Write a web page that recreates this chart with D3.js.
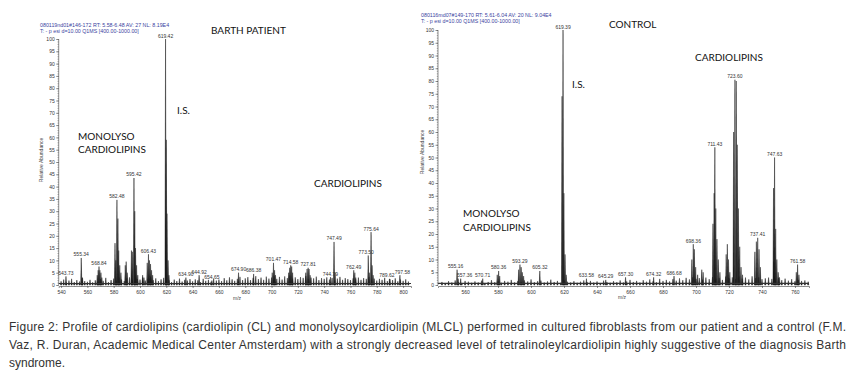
<!DOCTYPE html>
<html>
<head>
<meta charset="utf-8">
<script src="https://cdn.jsdelivr.net/npm/d3@7"></script>
<style>
  body { margin: 0; background: #fff; }
  svg { display: block; }
  .tick text { font-family: Arial, "Liberation Sans", sans-serif; }
</style>
</head>
<body>
<svg id="canvas" width="856" height="373"></svg>
<script>
'use strict';

// noise sticks, one every 2 m/z from the start value
const patientNoiseStart = 540;
const patientNoise = [
  1.5, 2.2, 1.0, 1.8, 2.5, 1.2, 2.0, 1.4, 2.8, 1.6,
  1.3, 2.1, 1.1, 1.9, 1.5, 2.4, 1.7, 2.9, 1.2, 2.0,
  2.6, 1.8, 3.0, 2.2, 1.6, 2.7, 3.1, 2.0, 1.5, 2.4,
  2.2, 3.0, 1.8, 2.5, 3.4, 2.0, 2.7, 1.6, 2.3, 2.9,
  2.5, 1.9, 1.2, 2.2, 1.6, 2.6, 1.4, 2.1, 1.8, 2.4,
  1.5, 2.3, 1.9, 1.2, 2.5, 1.7, 2.1, 1.3, 2.6, 1.8,
  2.2, 1.6, 2.8, 1.9, 3.1, 2.3, 1.7, 2.5, 3.3, 2.0,
  2.7, 3.2, 2.0, 2.9, 3.6, 2.4, 3.0, 2.1, 3.4, 2.6,
  3.0, 3.8, 2.5, 3.3, 2.2, 3.5, 2.8, 3.9, 2.6, 3.1,
  2.4, 3.2, 2.9, 3.6, 2.3, 3.0, 2.7, 3.4, 2.0, 2.8,
  2.5, 3.1, 2.2, 2.9, 1.9, 2.6, 3.3, 2.1, 2.8, 2.4,
  2.0, 2.7, 2.3, 3.0, 2.1, 2.8, 2.5, 3.2, 2.2, 2.6,
  1.8, 2.5, 2.1, 2.9, 1.6, 2.4, 2.0, 2.7, 1.5, 2.2,
  1.7, 2.3, 1.4
];

// [m/z, relative abundance, labelled]
const patientPeaks = [
  [543.73, 3.5, 1], [555.34, 11, 1], [556.3, 3, 0],
  [567.5, 4, 0], [568.2, 6, 0], [568.84, 7.5, 1], [569.5, 6, 0], [570.3, 5, 0], [571.0, 3, 0],
  [581.0, 17, 0], [581.6, 10, 0], [582.48, 34.6, 1], [583.2, 27, 0], [583.8, 14, 0], [584.6, 8, 0], [585.5, 5, 0],
  [588.8, 8, 0], [589.5, 9.5, 0], [590.3, 5, 0],
  [593.5, 14, 0], [594.2, 13.5, 0], [595.42, 43.5, 1], [596.0, 30, 0], [596.6, 15, 0], [597.4, 8, 0], [598.3, 4, 0],
  [602.0, 4, 0], [603.0, 3, 0],
  [605.5, 9, 0], [606.43, 12.5, 1], [607.2, 10, 0], [608.0, 8.5, 0], [608.8, 6, 0], [609.6, 4, 0],
  [619.42, 100, 1], [620.0, 59, 0], [620.5, 29, 0], [621.3, 10, 0], [622.0, 4, 0],
  [634.90, 3, 1], [644.92, 4, 1], [654.65, 1.8, 1], [674.90, 5, 1], [686.38, 4.5, 1],
  [700.5, 5, 0], [701.47, 9, 1], [702.3, 6, 0], [703.0, 4, 0],
  [713.0, 5, 0], [713.8, 7, 0], [714.58, 8, 1], [715.3, 7.5, 0], [716.0, 5, 0],
  [726.0, 5, 0], [727.0, 6.5, 0], [727.81, 7, 1], [728.5, 6.5, 0], [729.3, 4, 0],
  [744.79, 3.2, 1], [747.49, 17.5, 1], [748.3, 5, 0],
  [762.49, 6, 1], [763.3, 5, 0], [764.0, 3, 0],
  [773.50, 12, 1], [774.3, 5, 0], [775.64, 21.5, 1], [776.4, 8, 0], [777.2, 4, 0],
  [789.62, 2.5, 1], [797.58, 4, 1]
];

const controlNoiseStart = 546;
const controlNoise = [
  1.2, 0.8, 1.5, 1.0, 1.8, 1.1, 0.7, 1.6, 1.3, 0.9,
  1.4, 1.0, 1.7, 0.8, 1.2, 1.9, 1.1, 1.5, 0.9, 1.6,
  1.3, 2.0, 1.0, 1.6, 1.2, 1.8, 1.4, 2.2, 1.1, 1.5,
  1.7, 1.0, 1.4, 2.1, 1.2, 1.6, 0.9, 1.8, 1.3, 1.0,
  1.5, 0.9, 1.3, 1.8, 1.1, 1.6, 1.0, 1.4, 0.8, 1.7,
  1.2, 0.9, 1.5, 1.1, 1.8, 1.0, 1.4, 2.0, 1.2, 1.6,
  1.0, 1.9, 1.3, 2.2, 1.5, 1.1, 2.4, 1.6, 2.0, 1.4,
  2.3, 1.7, 2.6, 1.9, 2.8, 2.2, 3.0, 2.4, 2.7, 2.1,
  2.9, 2.3, 3.1, 2.5, 2.8, 2.0, 3.3, 2.6, 3.0, 2.4,
  3.2, 2.5, 2.9, 2.2, 3.4, 2.7, 3.0, 2.3, 2.6, 2.9,
  2.4, 2.1, 2.8, 1.9, 2.5, 1.7, 2.3, 1.5, 2.0, 1.6,
  1.8, 1.3
];

const controlPeaks = [
  [555.16, 6, 1], [555.8, 2.5, 0], [557.36, 2.5, 1], [570.71, 2.5, 1],
  [579.5, 4, 0], [580.36, 5.5, 1], [581.0, 3.5, 0],
  [592.5, 6, 0], [593.29, 8, 1], [594.0, 7, 0], [594.7, 5, 0], [595.5, 3.5, 0],
  [605.32, 5.5, 1],
  [618.8, 74, 0], [619.39, 100, 1], [619.9, 36, 0], [620.6, 12, 0], [621.3, 4, 0],
  [633.58, 2.5, 1], [645.29, 2, 1], [657.30, 3, 1], [674.32, 3, 1], [686.68, 3.5, 1],
  [697.5, 10, 0], [698.36, 16, 1], [699.0, 14, 0], [699.8, 7, 0], [701.0, 4, 0],
  [703.5, 6, 0], [704.3, 5, 0],
  [710.3, 24, 0], [711.0, 36, 0], [711.43, 54, 1], [712.0, 30, 0], [712.7, 18, 0], [713.5, 10, 0], [714.5, 5, 0],
  [718.3, 12, 0], [719.0, 16, 0], [719.7, 10, 0], [720.5, 5, 0],
  [722.8, 60, 0], [723.60, 80.5, 1], [724.4, 80, 0], [725.0, 55, 0], [725.7, 30, 0], [726.5, 15, 0], [727.3, 7, 0], [728.2, 4, 0],
  [735.7, 13, 0], [736.6, 17, 0], [737.41, 18.5, 1], [738.2, 14, 0], [739.0, 7, 0],
  [747.0, 38, 0], [747.63, 50, 1], [748.3, 22, 0], [749.0, 10, 0], [749.8, 5, 0], [750.6, 3, 0],
  [760.8, 5, 0], [761.58, 8, 1], [762.4, 4, 0]
];

const patientXTicks = [540, 560, 580, 600, 620, 640, 660, 680, 700, 720, 740, 760, 780, 800];
const controlXTicks = [560, 580, 600, 620, 640, 660, 680, 700, 720, 740, 760];
const yTicks = [0, 5, 10, 15, 20, 25, 30, 35, 40, 45, 50, 55, 60, 65, 70, 75, 80, 85, 90, 95, 100];

const patientHeader = ['080119nd01#146-172  RT: 5.58-6.48  AV: 27  NL: 8.19E4',
                       'T: - p esi d=10.00  Q1MS [400.00-1000.00]'];
const controlHeader = ['080116md07#149-170  RT: 5.61-6.04  AV: 20  NL: 9.04E4',
                       'T: - p esi d=10.00  Q1MS [400.00-1000.00]'];

const captionLines = [
  'Figure 2: Profile of cardiolipins (cardiolipin (CL) and monolysoylcardiolipin (MLCL) performed in cultured fibroblasts from our patient and a control (F.M.',
  'Vaz, R. Duran, Academic Medical Center Amsterdam) with a strongly decreased level of tetralinoleylcardiolipin highly suggestive of the diagnosis Barth',
  'syndrome.'
];

(function() {

const kSmallFont = 'Arial, "Liberation Sans", sans-serif';
const kLabelFont = 'Lato, "Open Sans", sans-serif';

// sideways nudges (px) for crowded peak labels
const kLabelNudge = { '789.62': -2.5, '797.58': 2.5, '555.16': -1.5, '557.36': 4, '773.50': -2 };

function BuildSticks(noiseStart, noise, peaks) {
  var sticks = noise.map(function(v, i) { return [noiseStart + 2 * i, v]; });
  peaks.forEach(function(p) { sticks.push([p[0], p[1]]); });
  sticks.sort(function(a, b) { return a[0] - b[0]; });
  return sticks;
}

function DrawSpectrum(svg, cfg) {
  const x = d3.scaleLinear().domain(cfg.xDomain).range(cfg.xRange);
  const y = d3.scaleLinear().domain([0, 100]).range(cfg.yRange);
  const g = svg.append('g');
  const halfWidth = cfg.halfWidth;

  // spectrum as narrow peak shapes
  const sticks = BuildSticks(cfg.noiseStart, cfg.noise, cfg.peaks);
  g.append('g').selectAll('path')
      .data(sticks)
    .enter().append('path')
      .attr('d', function(d) {
        return 'M' + x(d[0] - halfWidth) + ',' + y(0) +
               'L' + x(d[0]) + ',' + y(d[1]) +
               'L' + x(d[0] + halfWidth) + ',' + y(0) + 'Z';
      })
      .attr('fill', '#111')
      .attr('stroke', '#222')
      .attr('stroke-width', 0.5);

  // baseline fuzz
  g.append('line')
      .attr('x1', cfg.xRange[0]).attr('x2', cfg.xRange[1])
      .attr('y1', y(0.6)).attr('y2', y(0.6))
      .attr('stroke', '#333').attr('stroke-width', 1.2);

  // peak labels
  g.append('g').selectAll('text')
      .data(cfg.peaks.filter(function(p) { return p[2]; }))
    .enter().append('text')
      .attr('x', function(d) { return x(d[0]) + (kLabelNudge[d[0].toFixed(2)] || 0); })
      .attr('y', function(d) { return y(d[1]) - 1.5; })
      .attr('text-anchor', 'middle')
      .attr('font-family', kSmallFont)
      .attr('font-size', 5)
      .attr('fill', '#333')
      .text(function(d) { return d[0].toFixed(2); });

  // y axis, major and minor ticks
  const yAxis = g.append('g')
      .attr('transform', 'translate(' + cfg.xRange[0] + ',0)')
      .call(d3.axisLeft(y).tickValues(yTicks).tickSize(2.5).tickPadding(1.5));
  yAxis.selectAll('text').attr('font-size', 5).attr('fill', '#333');
  yAxis.selectAll('line, path').attr('stroke', '#444').attr('stroke-width', 0.6);
  yAxis.select('.domain').attr('d', 'M0,' + y(0) + 'V' + y(100));
  const yMinor = g.append('g')
      .attr('transform', 'translate(' + cfg.xRange[0] + ',0)')
      .call(d3.axisLeft(y).ticks(100).tickSize(1.2).tickFormat(''));
  yMinor.select('.domain').remove();
  yMinor.selectAll('line').attr('stroke', '#555').attr('stroke-width', 0.5);

  // x axis
  const xAxis = g.append('g')
      .attr('transform', 'translate(0,' + (y(0) + 1) + ')')
      .call(d3.axisBottom(x).tickValues(cfg.xTicks).tickSize(2).tickPadding(2));
  xAxis.selectAll('text').attr('font-size', 5).attr('fill', '#333');
  xAxis.selectAll('line, path').attr('stroke', '#444').attr('stroke-width', 0.6);
  const xMinor = g.append('g')
      .attr('transform', 'translate(0,' + (y(0) + 1) + ')')
      .call(d3.axisBottom(x).ticks(60).tickSize(1).tickFormat(''));
  xMinor.select('.domain').remove();
  xMinor.selectAll('line').attr('stroke', '#666').attr('stroke-width', 0.4);

  // axis titles
  g.append('text')
      .attr('transform', 'translate(' + cfg.yTitle[0] + ',' + cfg.yTitle[1] + ') rotate(-90)')
      .attr('text-anchor', 'middle')
      .attr('font-family', kSmallFont)
      .attr('font-size', 5)
      .attr('fill', '#444')
      .text('Relative Abundance');
  g.append('text')
      .attr('x', cfg.mzTitle[0]).attr('y', cfg.mzTitle[1])
      .attr('text-anchor', 'middle')
      .attr('font-family', kSmallFont)
      .attr('font-size', 5)
      .attr('fill', '#444')
      .text('m/z');

  // instrument header
  g.append('g').selectAll('text')
      .data(cfg.header)
    .enter().append('text')
      .attr('x', cfg.headerPos[0])
      .attr('y', function(d, i) { return cfg.headerPos[1] + i * 6.5; })
      .attr('font-family', kSmallFont)
      .attr('font-size', 5.3)
      .attr('fill', '#3a3fa0')
      .text(function(d) { return d; });

  // annotations
  g.append('g').selectAll('text')
      .data(cfg.notes)
    .enter().append('text')
      .attr('x', function(d) { return d[1]; })
      .attr('y', function(d) { return d[2]; })
      .attr('font-family', kLabelFont)
      .attr('font-size', 10)
      .attr('fill', '#111')
      .text(function(d) { return d[0]; });
}

function Main() {
  const svg = d3.select('#canvas');
  svg.append('rect').attr('width', 856).attr('height', 373).attr('fill', '#fff');

  DrawSpectrum(svg, {
    xDomain: [538.2, 806], xRange: [58.7, 411],
    yRange: [285, 39],
    halfWidth: 0.45,
    noiseStart: patientNoiseStart, noise: patientNoise, peaks: patientPeaks,
    xTicks: patientXTicks,
    yTitle: [43, 160], mzTitle: [237, 300],
    header: patientHeader, headerPos: [40, 26.5],
    notes: [['BARTH PATIENT', 211, 34], ['I.S.', 177, 114],
            ['MONOLYSO', 78, 140], ['CARDIOLIPINS', 78, 153],
            ['CARDIOLIPINS', 314, 187]]
  });

  DrawSpectrum(svg, {
    xDomain: [543.6, 768.5], xRange: [438, 809],
    yRange: [285, 30],
    halfWidth: 0.35,
    noiseStart: controlNoiseStart, noise: controlNoise, peaks: controlPeaks,
    xTicks: controlXTicks,
    yTitle: [424, 152], mzTitle: [622, 299],
    header: controlHeader, headerPos: [421, 16.5],
    notes: [['CONTROL', 609, 28], ['I.S.', 572, 88],
            ['CARDIOLIPINS', 695, 61],
            ['MONOLYSO', 463, 217], ['CARDIOLIPINS', 463, 231]]
  });

  // caption, first two lines justified
  svg.append('g').selectAll('text')
      .data(captionLines)
    .enter().append('text')
      .attr('x', 9)
      .attr('y', function(d, i) { return 331 + i * 18; })
      .attr('font-family', 'Arial, "Liberation Sans", sans-serif')
      .attr('font-size', 12)
      .attr('fill', '#333')
      .attr('textLength', function(d, i) { return i < 2 ? 837 : null; })
      .attr('lengthAdjust', 'spacing')
      .text(function(d) { return d; });
}

Main();

}) ();
</script>
</body>
</html>
